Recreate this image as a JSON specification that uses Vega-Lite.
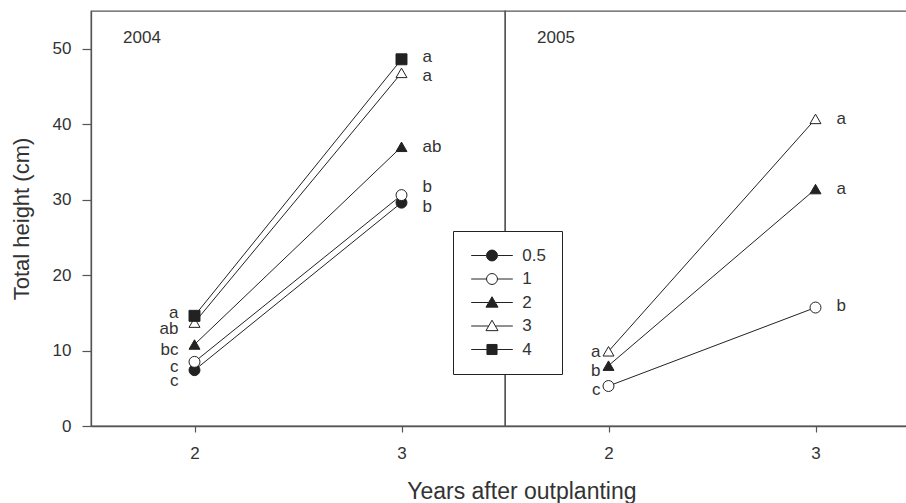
{
  "$schema": "https://vega.github.io/schema/vega-lite/v6.json",
  "padding": {"left": 10, "top": 10, "right": 0, "bottom": 2},
  "bounds": "flush",
  "data": {"values": [
    {"panel": "2004", "treat": "0.5", "yrs": 2, "height": 7.4, "letter": "c", "ly": 5.9},
    {"panel": "2004", "treat": "0.5", "yrs": 3, "height": 29.6, "letter": "b", "ly": 29.0},
    {"panel": "2004", "treat": "1", "yrs": 2, "height": 8.5, "letter": "c", "ly": 7.8},
    {"panel": "2004", "treat": "1", "yrs": 3, "height": 30.6, "letter": "b", "ly": 31.7},
    {"panel": "2004", "treat": "2", "yrs": 2, "height": 10.8, "letter": "bc", "ly": 10.1},
    {"panel": "2004", "treat": "2", "yrs": 3, "height": 37.0, "letter": "ab", "ly": 37.0},
    {"panel": "2004", "treat": "3", "yrs": 2, "height": 13.7, "letter": "ab", "ly": 12.9},
    {"panel": "2004", "treat": "3", "yrs": 3, "height": 46.8, "letter": "a", "ly": 46.4},
    {"panel": "2004", "treat": "4", "yrs": 2, "height": 14.6, "letter": "a", "ly": 15.0},
    {"panel": "2004", "treat": "4", "yrs": 3, "height": 48.6, "letter": "a", "ly": 48.9},
    {"panel": "2005", "treat": "1", "yrs": 2, "height": 5.3, "letter": "c", "ly": 4.8},
    {"panel": "2005", "treat": "1", "yrs": 3, "height": 15.7, "letter": "b", "ly": 15.9},
    {"panel": "2005", "treat": "2", "yrs": 2, "height": 8.0, "letter": "b", "ly": 7.3},
    {"panel": "2005", "treat": "2", "yrs": 3, "height": 31.4, "letter": "a", "ly": 31.4},
    {"panel": "2005", "treat": "3", "yrs": 2, "height": 9.9, "letter": "a", "ly": 9.85},
    {"panel": "2005", "treat": "3", "yrs": 3, "height": 40.7, "letter": "a", "ly": 40.7}
  ]},
  "facet": {"column": {"field": "panel", "type": "nominal", "header": {"labels": false, "title": null}}},
  "spacing": 0,
  "title": {"text": "Years after outplanting", "orient": "bottom", "anchor": "middle", "dx": 57, "offset": 20, "fontSize": 23, "font": "Liberation Sans", "fontWeight": "normal", "color": "#333"},
  "spec": {
    "width": 414,
    "height": 415,
    "encoding": {
      "x": {"field": "yrs", "type": "quantitative", "scale": {"domain": [1.5, 3.5], "nice": false, "zero": false},
            "axis": {"values": [2, 3], "format": "d", "title": null, "grid": false, "tickSize": 6, "labelPadding": 13}},
      "y": {"field": "height", "type": "quantitative", "scale": {"domain": [0, 55], "nice": false},
            "axis": {"values": [0, 10, 20, 30, 40, 50], "title": "Total height (cm)", "grid": false, "tickSize": 9, "labelPadding": 11, "titlePadding": 19}}
    },
    "layer": [
      {
        "mark": {"type": "line", "color": "#222", "strokeWidth": 1},
        "encoding": {"detail": {"field": "treat", "type": "nominal"}}
      },
      {
        "mark": {"type": "point", "filled": false, "opacity": 0, "size": 120, "color": "#222", "stroke": "#222", "strokeWidth": 1},
        "encoding": {
          "shape": {"field": "treat", "type": "nominal",
            "scale": {"domain": ["0.5", "1", "2", "3", "4"], "range": [
              "M-3.8,0H-1M1,0H3.8M-1,0A1,1 0 1,0 1,0A1,1 0 1,0 -1,0Z",
              "M-3.8,0H-1M1,0H3.8M-1,0A1,1 0 1,0 1,0A1,1 0 1,0 -1,0Z",
              "M-3.8,0H-0.6M0.6,0H3.8M0,-1.05L1.1,0.85L-1.1,0.85Z",
              "M-3.8,0H-0.6M0.6,0H3.8M0,-1.05L1.1,0.85L-1.1,0.85Z",
              "M-3.8,0H-0.92M0.92,0H3.8M-0.92,-0.92H0.92V0.92H-0.92Z"]},
            "legend": {"title": null, "orient": "none", "legendX": 362, "legendY": 220, "padding": 16, "symbolOffset": 14.5, "labelOffset": 21.7, "rowPadding": 5.5, "symbolSize": 120, "symbolOpacity": 1, "symbolStrokeWidth": 1,
              "fillColor": "white", "strokeColor": "#222", "labelFontSize": 17, "labelColor": "#333", "labelFont": "Liberation Sans"}},
          "fill": {"field": "treat", "type": "nominal",
            "scale": {"domain": ["0.5", "1", "2", "3", "4"], "range": ["#222", "white", "#222", "white", "#222"]},
            "legend": {"title": null, "orient": "none", "legendX": 362, "legendY": 220, "padding": 16, "symbolOffset": 14.5, "labelOffset": 21.7, "rowPadding": 5.5, "symbolSize": 120, "symbolOpacity": 1, "symbolStrokeWidth": 1,
              "fillColor": "white", "strokeColor": "#222", "labelFontSize": 17, "labelColor": "#333", "labelFont": "Liberation Sans"}}
        }
      },
      {
        "transform": [{"filter": "datum.treat === '0.5'"}],
        "mark": {"type": "point", "shape": "circle", "filled": true, "size": 120, "fill": "#222", "stroke": "#222", "strokeWidth": 1, "opacity": 1}
      },
      {
        "transform": [{"filter": "datum.treat === '1'"}],
        "mark": {"type": "point", "shape": "circle", "filled": true, "size": 120, "fill": "white", "stroke": "#222", "strokeWidth": 1, "opacity": 1}
      },
      {
        "transform": [{"filter": "datum.treat === '2'"}],
        "mark": {"type": "point", "shape": "triangle-up", "filled": true, "size": 120, "fill": "#222", "stroke": "#222", "strokeWidth": 1, "opacity": 1}
      },
      {
        "transform": [{"filter": "datum.treat === '3'"}],
        "mark": {"type": "point", "shape": "triangle-up", "filled": true, "size": 120, "fill": "white", "stroke": "#222", "strokeWidth": 1, "opacity": 1}
      },
      {
        "transform": [{"filter": "datum.treat === '4'"}],
        "mark": {"type": "point", "shape": "square", "filled": true, "size": 120, "fill": "#222", "stroke": "#222", "strokeWidth": 1, "opacity": 1}
      },
      {
        "transform": [{"filter": "datum.panel === '2004' && datum.yrs === 2"}],
        "mark": {"type": "text", "align": "right", "baseline": "middle", "dx": -16, "fontSize": 17, "color": "#333"},
        "encoding": {"y": {"field": "ly", "type": "quantitative"}, "text": {"field": "letter"}}
      },
      {
        "transform": [{"filter": "datum.panel === '2005' && datum.yrs === 2"}],
        "mark": {"type": "text", "align": "right", "baseline": "middle", "dx": -8, "fontSize": 17, "color": "#333"},
        "encoding": {"y": {"field": "ly", "type": "quantitative"}, "text": {"field": "letter"}}
      },
      {
        "transform": [{"filter": "datum.yrs === 3"}],
        "mark": {"type": "text", "align": "left", "baseline": "middle", "dx": 21, "fontSize": 17, "color": "#333"},
        "encoding": {"y": {"field": "ly", "type": "quantitative"}, "text": {"field": "letter"}}
      },
      {
        "transform": [{"filter": "datum.treat === '1' && datum.yrs === 2"}],
        "mark": {"type": "text", "align": "left", "baseline": "middle", "fontSize": 17, "color": "#333"},
        "encoding": {"x": {"datum": 1.655}, "y": {"datum": 51.4}, "text": {"field": "panel"}}
      }
    ]
  },
  "config": {
    "font": "Liberation Sans",
    "view": {"stroke": "#555", "strokeWidth": 1.3},
    "axis": {"domainColor": "#555", "domainWidth": 1.3, "tickColor": "#555", "tickWidth": 1.2, "labelFontSize": 17, "labelColor": "#333", "labelFont": "Liberation Sans",
             "titleFontSize": 22, "titleFontWeight": "normal", "titleColor": "#333", "titleFont": "Liberation Sans"},
    "text": {"font": "Liberation Sans"}
  }
}
